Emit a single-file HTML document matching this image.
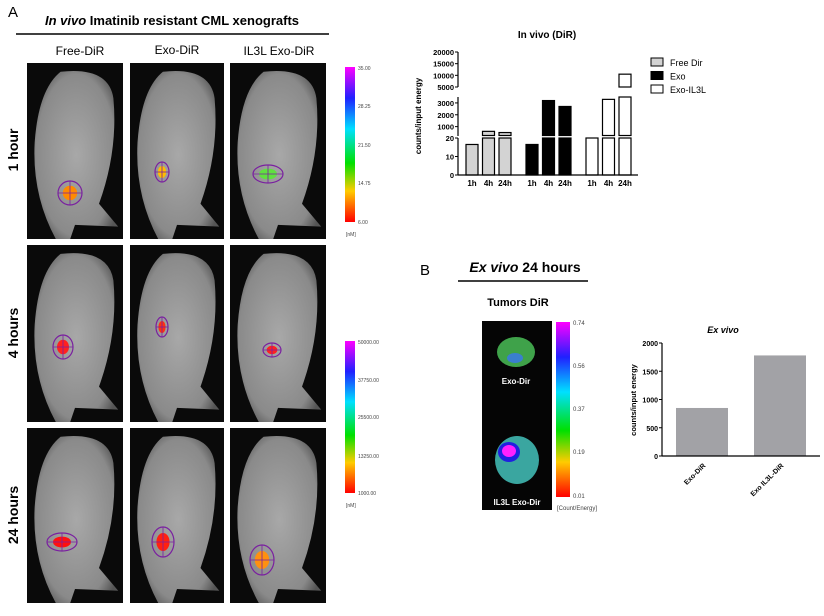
<!DOCTYPE html>
<html><head><meta charset="utf-8"><style>
body{margin:0;background:#fff;width:824px;height:611px;overflow:hidden;font-family:"Liberation Sans",sans-serif}
svg text{font-family:"Liberation Sans",sans-serif}
</style></head><body>
<svg id="s" width="824" height="611" viewBox="0 0 824 611" xmlns="http://www.w3.org/2000/svg">
<defs>
<linearGradient id="cb" x1="0" y1="1" x2="0" y2="0">
<stop offset="0" stop-color="#ff0000"/><stop offset="0.2" stop-color="#ffcc00"/><stop offset="0.38" stop-color="#00e000"/><stop offset="0.6" stop-color="#00e0ff"/><stop offset="0.8" stop-color="#2020ff"/><stop offset="1" stop-color="#ff00ff"/></linearGradient>
<radialGradient id="mouse" cx="0.5" cy="0.5" r="0.6"><stop offset="0" stop-color="#a8a8a8"/><stop offset="0.8" stop-color="#8a8a8a"/><stop offset="1" stop-color="#555"/></radialGradient>
</defs>
<text x="8" y="17" font-size="15">A</text>
<text x="172" y="25" font-size="13" font-weight="bold" text-anchor="middle"><tspan font-style="italic">In vivo</tspan> Imatinib resistant CML xenografts</text>
<line x1="16" y1="34" x2="329" y2="34" stroke="#000" stroke-width="1.5"/>
<text x="80" y="55" font-size="12" text-anchor="middle">Free-DiR</text>
<text x="177" y="54" font-size="12" text-anchor="middle">Exo-DiR</text>
<text x="279" y="55" font-size="12" text-anchor="middle">IL3L Exo-DiR</text>
<g id="mice"></g>
<text transform="translate(18,150) rotate(-90)" font-size="14" font-weight="bold" text-anchor="middle">1 hour</text>
<text transform="translate(18,333) rotate(-90)" font-size="14" font-weight="bold" text-anchor="middle">4 hours</text>
<text transform="translate(18,515) rotate(-90)" font-size="14" font-weight="bold" text-anchor="middle">24 hours</text>
<g>
<rect x="345" y="67" width="10" height="155" fill="url(#cb)"/>
<g font-size="5" fill="#444"><text x="358" y="70">35.00</text><text x="358" y="108">28.25</text><text x="358" y="147">21.50</text><text x="358" y="185">14.75</text><text x="358" y="224">6.00</text><text x="346" y="236">[nM]</text></g></g>
<g>
<rect x="345" y="341" width="10" height="152" fill="url(#cb)"/>
<g font-size="5" fill="#444"><text x="358" y="344">50000.00</text><text x="358" y="382">37750.00</text><text x="358" y="419">25500.00</text><text x="358" y="458">13250.00</text><text x="358" y="495">1000.00</text><text x="346" y="507">[nM]</text></g></g>
<g id="c1"></g>
<text x="420" y="275" font-size="15">B</text>
<text x="525" y="272" font-size="14" font-weight="bold" text-anchor="middle"><tspan font-style="italic">Ex vivo</tspan> 24 hours</text>
<line x1="458" y1="281" x2="588" y2="281" stroke="#000" stroke-width="1.5"/>
<text x="518" y="306" font-size="11" font-weight="bold" text-anchor="middle">Tumors DiR</text>
<g>
<rect x="482" y="321" width="70" height="189" fill="#050505"/>
<ellipse cx="516" cy="352" rx="19" ry="15" fill="#3fa24a"/><ellipse cx="515" cy="358" rx="8" ry="5" fill="#3a7fcf"/>
<text x="516" y="384" font-size="8" font-weight="bold" fill="#fff" text-anchor="middle">Exo-Dir</text>
<ellipse cx="517" cy="460" rx="22" ry="24" fill="#3aa6a0"/><ellipse cx="509" cy="452" rx="11" ry="10" fill="#2020e0"/><ellipse cx="509" cy="451" rx="7" ry="6" fill="#ff20ff"/>
<text x="517" y="505" font-size="8" font-weight="bold" fill="#fff" text-anchor="middle">IL3L Exo-Dir</text></g>
<g>
<rect x="556" y="322" width="14" height="175" fill="url(#cb)"/>
<g font-size="6" fill="#444"><text x="573" y="325">0.74</text><text x="573" y="368">0.56</text><text x="573" y="411">0.37</text><text x="573" y="454">0.19</text><text x="573" y="498">0.01</text><text x="557" y="510">[Count/Energy]</text></g></g>
<g id="c2"></g>
</svg>
<script>
// ---- in vivo chart data ----
const groups=["Free Dir","Exo","Exo-IL3L"];
const times=["1h","4h","24h"];
const freeVals=[16.5,600,500];
const exoVals=[16.5,3200,2700];
const il3lVals=[20,3300,10500];
const lowTicks=[0,10,20];
const midTicks=[1000,2000,3000];
const topTicks=[5000,10000,15000,20000];
// ---- ex vivo chart data ----
const exCats=["Exo-DiR","Exo IL3L-DiR"];
const exVals=[850,1780];
const exTicks=[0,500,1000,1500,2000];

const NS="http://www.w3.org/2000/svg";
function mk(tag,attrs,parent){const e=document.createElementNS(NS,tag);for(const k in attrs)e.setAttribute(k,attrs[k]);parent.appendChild(e);return e;}

// mice panels
const mice=document.getElementById('mice');
const cols=[[27,96],[130,94],[230,96]];
const rows=[[63,176],[245,177],[428,175]];
const spots=[[[70,193,12,12,"#ff8a00"],[162,172,7,10,"#ffbb00"],[268,174,15,9,"#60e040"]],
[[63,347,10,12,"#ff2020"],[162,327,6,10,"#ff3010"],[272,350,9,7,"#ff2020"]],
[[62,542,15,9,"#ff1010"],[163,542,11,15,"#ff2010"],[262,560,12,15,"#ff9010"]]];
rows.forEach((r,ri)=>cols.forEach((c,ci)=>{
 const g=mk('g',{},mice);
 
 
 mk('rect',{x:c[0],y:r[0],width:c[1],height:r[1],fill:'#0a0a0a'},g);
 const x=c[0],y=r[0],w=c[1],h=r[1];
 mk('path',{d:`M${x+w*0.35} ${y+h*0.05} Q${x+w*0.85} ${y+h*0.02} ${x+w*0.9} ${y+h*0.2} Q${x+w*0.95} ${y+h*0.5} ${x+w*0.75} ${y+h*0.8} L${x+w*0.95} ${y+h*0.93} L${x+w*0.5} ${y+h*0.92} L${x+w*0.45} ${y+h} L${x+w*0.3} ${y+h} Q${x+w*0.05} ${y+h*0.75} ${x+w*0.08} ${y+h*0.45} Q${x+w*0.12} ${y+h*0.15} ${x+w*0.35} ${y+h*0.05}Z`,fill:'url(#mouse)'},g);
 const s=spots[ri][ci];
 mk('ellipse',{cx:s[0],cy:s[1],rx:s[2]*0.6,ry:s[3]*0.6,fill:s[4]},g);
 mk('ellipse',{cx:s[0],cy:s[1],rx:s[2],ry:s[3],fill:'none',stroke:'#7a20a0','stroke-width':1.2},g);
 mk('line',{x1:s[0]-s[2],y1:s[1],x2:s[0]+s[2],y2:s[1],stroke:'#7a20a0','stroke-width':0.8},g);
 mk('line',{x1:s[0],y1:s[1]-s[3],x2:s[0],y2:s[1]+s[3],stroke:'#7a20a0','stroke-width':0.8},g);
}));

// in vivo broken-axis chart
const c1=document.getElementById('c1');
const ax=458;
const yLow=v=>175-(v/20)*37;
const yMid=v=>135.5-(v-250)/3250*38.5;
const yTop=v=>87-(v-5000)/15000*35;
const t=mk('text',{x:547,y:38,'font-size':10,'font-weight':'bold','text-anchor':'middle'},c1);t.textContent="In vivo (DiR)";


const yl=mk('text',{transform:'translate(421,116) rotate(-90)','font-size':8,'font-weight':'bold','text-anchor':'middle'},c1);yl.textContent="counts/input energy";


const fills=['#d3d3d3','#000','#fff'];
const sets=[freeVals,exoVals,il3lVals];
const gx0=[472,532,592],step=16.5,bw=12;
sets.forEach((vals,gi)=>vals.forEach((v,ti)=>{
 const cx=gx0[gi]+ti*step;
 const g=mk('g',{},c1);
 
 
 const st={fill:fills[gi],stroke:'#000','stroke-width':1.2};
 const lv=Math.min(v,20);
 mk('rect',Object.assign({x:cx-bw/2,y:yLow(lv),width:bw,height:175-yLow(lv)},st),g);
 if(v>250){const mv=Math.min(v,3500);mk('rect',Object.assign({x:cx-bw/2,y:yMid(mv),width:bw,height:135.5-yMid(mv)},st),g);}
 if(v>5000){mk('rect',Object.assign({x:cx-bw/2,y:yTop(v),width:bw,height:87-yTop(v)},st),g);}
 const lab=mk('text',{x:cx,y:186,'font-size':8,'font-weight':'bold','text-anchor':'middle'},c1);lab.textContent=times[ti];
 
 
}));
mk('line',{x1:ax,y1:175,x2:638,y2:175,stroke:'#000','stroke-width':1.2},c1);
[[138,175],[97,136],[52,87]].forEach(s=>mk('line',{x1:ax,y1:s[0],x2:ax,y2:s[1],stroke:'#000','stroke-width':1.2},c1));
function tick(y,label){mk('line',{x1:ax-3,y1:y,x2:ax,y2:y,stroke:'#000'},c1);const tt=mk('text',{x:ax-4,y:y+3,'font-size':7.5,'font-weight':'bold','text-anchor':'end'},c1);tt.textContent=label;

}
lowTicks.forEach(v=>tick(yLow(v),v));midTicks.forEach(v=>tick(yMid(v),v));topTicks.forEach(v=>tick(yTop(v),v));
groups.forEach((gname,i)=>{const g=mk('g',{},c1);
 
 
 mk('rect',{x:651,y:58+i*13.5,width:12,height:8,fill:fills[i],stroke:'#000'},g);
 const tt=mk('text',{x:670,y:66+i*13.5,'font-size':9},g);tt.textContent=gname;});

// ex vivo chart
const c2=document.getElementById('c2');
const ey=v=>456-v/2000*113;
const et=mk('text',{x:723,y:333,'font-size':9,'font-weight':'bold','font-style':'italic','text-anchor':'middle'},c2);et.textContent="Ex vivo";


const eyl=mk('text',{transform:'translate(636,400) rotate(-90)','font-size':7.5,'font-weight':'bold','text-anchor':'middle'},c2);eyl.textContent="counts/input energy";


const ex0=[676,754];
exVals.forEach((v,i)=>{const r=mk('rect',{x:ex0[i],y:ey(v),width:52,height:456-ey(v),fill:'#a2a2a6'},c2);
 
 
 const tt=mk('text',{transform:`translate(${ex0[i]+30},466) rotate(-45)`,'font-size':7,'font-weight':'bold','text-anchor':'end'},c2);tt.textContent=exCats[i];
 
 });
mk('line',{x1:662,y1:343,x2:662,y2:456,stroke:'#000','stroke-width':1.2},c2);
mk('line',{x1:662,y1:456,x2:820,y2:456,stroke:'#000','stroke-width':1.2},c2);
exTicks.forEach(v=>{mk('line',{x1:659,y1:ey(v),x2:662,y2:ey(v),stroke:'#000'},c2);const tt=mk('text',{x:658,y:ey(v)+3,'font-size':7,'font-weight':'bold','text-anchor':'end'},c2);tt.textContent=v;
 
 });
</script>
</body></html>
